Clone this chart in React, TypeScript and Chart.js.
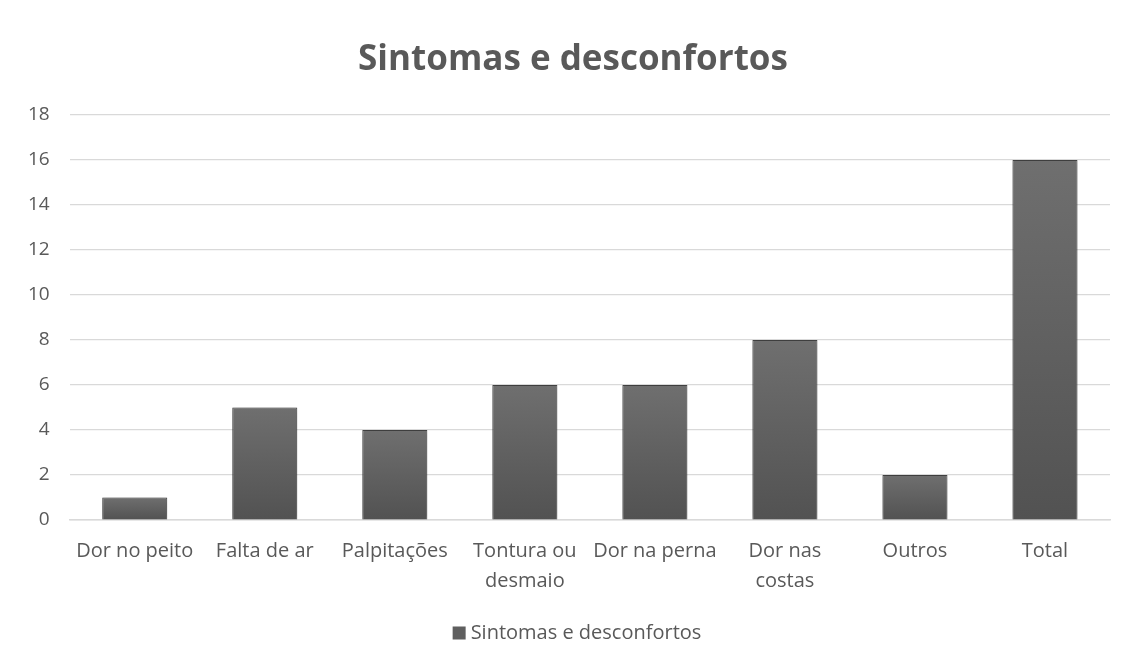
import React, { useEffect, useRef } from "react";
import { Chart, registerables } from "chart.js";

Chart.register(...registerables);

const categories: (string | string[])[] = [
  "Dor no peito",
  "Falta de ar",
  "Palpitações",
  ["Tontura ou", "desmaio"],
  "Dor na perna",
  ["Dor nas", "costas"],
  "Outros",
  "Total",
];
const titleText = "Sintomas e desconfortos";
const seriesName = "Sintomas e desconfortos";
const seriesValues = [1, 5, 4, 6, 6, 8, 2, 16];
const yMin = 0;
const yMax = 18;
const yStep = 2;

const FONT = "'Open Sans', sans-serif";
const TEXT = "#595959";
const SWATCH = "#5f5f5f";

export default function App() {
  const ref = useRef<HTMLCanvasElement | null>(null);

  useEffect(() => {
    document.body.style.margin = "0";
    const canvas = ref.current;
    if (!canvas) return;

    const shadowPlugin = {
      id: "barShadow",
      beforeDatasetDraw(chart: any) {
        const ctx = chart.ctx;
        ctx.save();
        ctx.shadowColor = "rgba(0,0,0,0.3)";
        ctx.shadowBlur = 6;
        ctx.shadowOffsetX = 0;
        ctx.shadowOffsetY = 0;
      },
      afterDatasetDraw(chart: any) {
        chart.ctx.restore();
      },
    };

    // Title and legend drawn as text, centred like the original (slightly right of canvas centre)
    const headerFooterPlugin = {
      id: "headerFooter",
      afterDraw(chart: any) {
        const ctx = chart.ctx;
        const cx = 573;
        ctx.save();
        ctx.fillStyle = TEXT;
        ctx.textAlign = "center";
        ctx.textBaseline = "middle";
        ctx.font = `bold 35px ${FONT}`;
        ctx.fillText(titleText, cx, 60);

        ctx.font = `20px ${FONT}`;
        const tw = ctx.measureText(seriesName).width;
        const box = 13;
        const gap = 5;
        const total = box + gap + tw;
        const x0 = cx + 4 - total / 2;
        const yc = 633;
        ctx.fillStyle = SWATCH;
        ctx.fillRect(x0, yc - box / 2, box, box);
        ctx.fillStyle = TEXT;
        ctx.textAlign = "left";
        ctx.fillText(seriesName, x0 + box + gap, yc);
        ctx.restore();
      },
    };

    const chart = new Chart(canvas, {
      type: "bar",
      data: {
        labels: categories,
        datasets: [
          {
            label: seriesName,
            data: seriesValues,
            backgroundColor: (c: any) => {
              const ch = c.chart;
              const y = ch.scales?.y;
              if (!y || c.raw === undefined || !ch.chartArea) return SWATCH;
              const top = y.getPixelForValue(c.raw as number);
              const bot = y.getPixelForValue(0);
              if (!isFinite(top) || !isFinite(bot) || top === bot) return SWATCH;
              const g = ch.ctx.createLinearGradient(0, top, 0, bot);
              g.addColorStop(0, "#6f6f6f");
              g.addColorStop(1, "#525252");
              return g;
            },
            borderColor: "#474747",
            borderWidth: 1,
            barPercentage: 0.5,
            categoryPercentage: 1,
          },
        ],
      },
      options: {
        responsive: false,
        animation: false,
        devicePixelRatio: 1,
        layout: { padding: { left: 8, right: 22, top: 115, bottom: 60 } },
        plugins: {
          title: { display: false },
          legend: { display: false },
          tooltip: { enabled: false },
        },
        scales: {
          x: {
            grid: { display: false },
            border: { display: true, color: "#d9d9d9", width: 1.5 },
            ticks: {
              color: TEXT,
              font: { family: FONT, size: 20, lineHeight: 1.5 },
              maxRotation: 0,
              autoSkip: false,
              padding: 8,
            },
          },
          y: {
            min: yMin,
            max: yMax,
            grid: { color: "#d9d9d9", drawTicks: false, lineWidth: 1.2 },
            border: { display: false },
            ticks: {
              stepSize: yStep,
              color: TEXT,
              font: { family: FONT, size: 19 },
              padding: 20,
            },
          },
        },
      },
      plugins: [shadowPlugin, headerFooterPlugin],
    });

    return () => chart.destroy();
  }, []);

  return (
    <div style={{ width: 1132, height: 664, background: "#fff" }}>
      <canvas ref={ref} width={1132} height={664} style={{ display: "block" }} />
    </div>
  );
}
